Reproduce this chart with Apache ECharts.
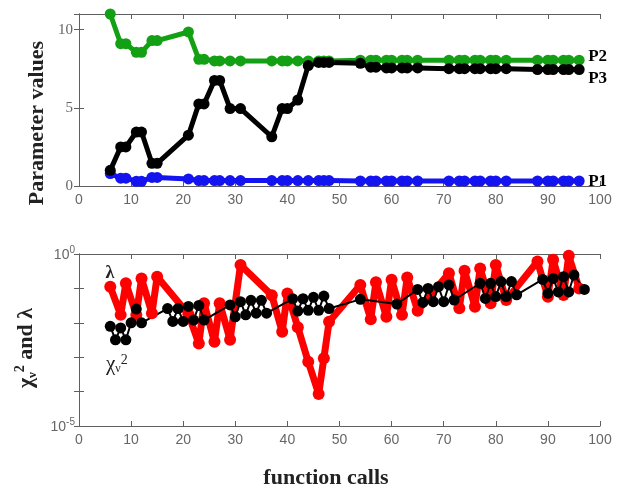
<!DOCTYPE html>
<html>
<head>
<meta charset="utf-8">
<script src="https://cdn.jsdelivr.net/npm/echarts@6/dist/echarts.min.js"></script>
<style>
  html, body { margin: 0; padding: 0; background: #fff; }
  #chart { width: 627px; height: 491px; }
</style>
</head>
<body>
<div id="chart"></div>
<script>
// Function calls at which the parameters and the damping factor were recorded
const paramCalls = [6, 8, 9, 11, 12, 14, 15, 21, 23, 24, 26, 27, 29, 31, 37, 39, 40, 42, 44, 46, 47, 48,
                    54, 56, 57, 59, 60, 62, 63, 65, 71, 73, 74, 76, 77, 79, 80, 82, 88, 90, 91, 93, 94, 96];

// Parameter traces
const p1 = [0.8, 0.5, 0.5, 0.3, 0.3, 0.55, 0.55, 0.45, 0.35, 0.35, 0.35, 0.35, 0.35, 0.35, 0.35, 0.35, 0.35, 0.35, 0.35, 0.35, 0.35, 0.35,
            0.32, 0.32, 0.32, 0.32, 0.32, 0.32, 0.32, 0.32, 0.32, 0.32, 0.32, 0.32, 0.32, 0.32, 0.32, 0.32, 0.32, 0.32, 0.32, 0.32, 0.32, 0.32];
const p2 = [11, 9.1, 9.1, 8.55, 8.55, 9.3, 9.3, 9.85, 8.1, 8.1, 8.0, 8.0, 8.0, 8.0, 8.0, 8.0, 8.0, 8.0, 8.0, 8.0, 8.0, 8.0,
            8.05, 8.05, 8.05, 8.05, 8.05, 8.05, 8.05, 8.05, 8.05, 8.05, 8.05, 8.05, 8.05, 8.05, 8.05, 8.05, 8.05, 8.05, 8.05, 8.05, 8.05, 8.05];
const p3 = [1.0, 2.5, 2.5, 3.45, 3.45, 1.45, 1.45, 3.25, 5.25, 5.25, 6.75, 6.75, 4.95, 4.95, 3.15, 4.95, 4.95, 5.5, 7.7, 7.9, 7.9, 7.9,
            7.85, 7.6, 7.6, 7.55, 7.55, 7.55, 7.55, 7.55, 7.5, 7.5, 7.5, 7.5, 7.5, 7.5, 7.5, 7.5, 7.45, 7.45, 7.45, 7.45, 7.45, 7.45];

// Damping factor lambda at the same calls
const lambdaVals = [0.112, 0.017, 0.141, 0.017, 0.195, 0.019, 0.219, 0.0178, 0.0025, 0.037, 0.0028, 0.037, 0.0032, 0.479,
                    0.063, 0.0055, 0.071, 0.0074, 0.00074, 0.000085, 0.00093, 0.0107,
                    0.126, 0.0126, 0.151, 0.0151, 0.178, 0.017, 0.209, 0.0224, 0.275, 0.0263, 0.324, 0.0295, 0.38, 0.037,
                    0.479, 0.0457, 0.603, 0.0575, 0.676, 0.0646, 0.891, 0.1];

// Reduced chi-square at every evaluated call
const chiCalls = [6, 7, 8, 9, 10, 11, 12, 17, 18, 19, 20, 21, 22, 23, 24, 29, 30, 31, 32, 33, 34, 35, 36,
                  41, 42, 43, 44, 45, 46, 47, 48, 54, 61, 65, 66, 67, 68, 69, 70, 71, 72,
                  77, 78, 79, 80, 81, 82, 83, 84, 89, 90, 91, 92, 93, 94, 95, 97];
const chiVals = [0.0079, 0.0032, 0.0071, 0.0032, 0.010, 0.025, 0.010, 0.026, 0.011, 0.026, 0.011, 0.030, 0.012, 0.032, 0.012,
                 0.033, 0.015, 0.041, 0.017, 0.045, 0.019, 0.045, 0.019,
                 0.050, 0.022, 0.050, 0.023, 0.055, 0.023, 0.060, 0.026, 0.048, 0.035, 0.093, 0.039, 0.10, 0.041, 0.112, 0.041, 0.126, 0.046,
                 0.141, 0.051, 0.141, 0.058, 0.158, 0.058, 0.158, 0.065, 0.182, 0.072, 0.195, 0.079, 0.219, 0.079, 0.245, 0.093];

const pairs = (xs, ys) => xs.map((x, i) => [x, ys[i]]);

const AXIS = '#5f5f5f';
const LABEL = '#666';
const SERIF = '"Liberation Serif", "Times New Roman", serif';
const SANS = '"Liberation Sans", Arial, sans-serif';

function xAx(grid, pos, labels) {
  return {
    type: 'value', gridIndex: grid, position: pos, min: 0, max: 100, interval: 10,
    axisLine: { show: true, onZero: false, lineStyle: { color: AXIS, width: 1 } },
    axisTick: { show: true, inside: true, length: 5, lineStyle: { color: AXIS } },
    axisLabel: { show: labels, color: LABEL, fontFamily: SANS, fontSize: 14, margin: 7 },
    splitLine: { show: false }
  };
}

// decade labels with a raised exponent, shown only at the ends of the log axis
function supLabel(v) {
  const e = Math.round(Math.log10(v));
  if (e === 0 || e === -5) return '{b|10}{s|' + e + '}';
  return '';
}

const lineSeries = (name, data, color, width, size, xi, yi, extra) => Object.assign({
  type: 'line', name, data, xAxisIndex: xi, yAxisIndex: yi,
  symbol: 'circle', symbolSize: size, showAllSymbol: true,
  lineStyle: { color, width }, itemStyle: { color },
  emphasis: { disabled: true }, animation: false
}, extra || {});

const endLbl = (txt, dy) => ({
  show: true, formatter: txt, color: '#000', fontFamily: SERIF, fontWeight: 'bold', fontSize: 17,
  distance: 9, offset: [0, dy]
});

const option = {
  animation: false,
  grid: [
    { left: 79, top: 14, width: 521, height: 172 },
    { left: 79, top: 254, width: 521, height: 172 }
  ],
  xAxis: [xAx(0, 'bottom', true), xAx(0, 'top', false), xAx(1, 'bottom', true), xAx(1, 'top', false)],
  yAxis: [
    {
      type: 'value', gridIndex: 0, position: 'left', min: 0, max: 11, interval: 5,
      axisLine: { show: true, lineStyle: { color: AXIS } },
      axisTick: { show: true, inside: true, length: 5, lineStyle: { color: AXIS } },
      axisLabel: { color: LABEL, fontFamily: SERIF, fontSize: 15, margin: 6, showMaxLabel: false },
      splitLine: { show: false }
    },
    {
      type: 'value', gridIndex: 0, position: 'right', min: 0, max: 11, interval: 5,
      axisLine: { show: true, lineStyle: { color: AXIS } },
      axisTick: { show: true, inside: true, length: 5, lineStyle: { color: AXIS } },
      axisLabel: { show: false }, splitLine: { show: false }
    },
    {
      type: 'log', logBase: 10, gridIndex: 1, position: 'left', min: 1e-5, max: 1,
      axisLine: { show: true, lineStyle: { color: AXIS } },
      axisTick: { show: true, inside: true, length: 5, lineStyle: { color: AXIS } },
      axisLabel: {
        color: LABEL, margin: 4, formatter: supLabel,
        rich: {
          b: { fontFamily: SANS, fontSize: 14, color: LABEL, lineHeight: 17, verticalAlign: 'bottom' },
          s: { fontFamily: SANS, fontSize: 10, color: LABEL, lineHeight: 10, verticalAlign: 'top' }
        }
      },
      splitLine: { show: false }, minorTick: { show: false }
    },
    {
      type: 'log', logBase: 10, gridIndex: 1, position: 'right', min: 1e-5, max: 1,
      axisLine: { show: true, lineStyle: { color: AXIS } },
      axisTick: { show: true, inside: true, length: 5, lineStyle: { color: AXIS } },
      axisLabel: { show: false }, splitLine: { show: false }
    }
  ],
  series: [
    lineSeries('P1', pairs(paramCalls, p1), '#1414f0', 5, 11, 0, 0, { endLabel: endLbl('P1', 1) }),
    lineSeries('P2', pairs(paramCalls, p2), '#14a014', 5, 11, 0, 0, { endLabel: endLbl('P2', -4) }),
    lineSeries('P3', pairs(paramCalls, p3), '#000000', 5, 11, 0, 0, { endLabel: endLbl('P3', 9) }),
    lineSeries('lambda', pairs(paramCalls, lambdaVals), '#ff0000', 7, 12, 2, 2),
    lineSeries('chi2', pairs(chiCalls, chiVals), '#000000', 2, 11, 2, 2)
  ],
  graphic: [
    {
      type: 'text', x: 37, y: 123, rotation: Math.PI / 2,
      style: { text: 'Parameter values', fill: '#222', font: 'bold 22px ' + SERIF, align: 'center', verticalAlign: 'middle' }
    },
    {
      type: 'text', x: 26, y: 348, rotation: Math.PI / 2,
      style: {
        text: '{g|χ}{sub|ν}{sup|2}{g| and λ}', align: 'center', verticalAlign: 'middle',
        rich: {
          g: { font: 'bold 22px ' + SERIF, fill: '#222', lineHeight: 26, verticalAlign: 'middle' },
          sub: { font: 'bold 13px ' + SERIF, fill: '#222', lineHeight: 14, verticalAlign: 'bottom' },
          sup: { font: 'bold 14px ' + SERIF, fill: '#222', lineHeight: 14, verticalAlign: 'top' }
        }
      }
    },
    {
      type: 'text', x: 326, y: 478,
      style: { text: 'function calls', fill: '#222', font: 'bold 22px ' + SERIF, align: 'center', verticalAlign: 'middle' }
    },
    {
      type: 'text', x: 110, y: 273,
      style: { text: 'λ', fill: '#222', font: 'bold 18px ' + SERIF, align: 'center', verticalAlign: 'middle' }
    },
    {
      type: 'text', x: 106, y: 364,
      style: {
        text: '{g|χ}{sub|ν}{sup|2}', align: 'left', verticalAlign: 'middle',
        rich: {
          g: { font: '21px ' + SERIF, fill: '#222', lineHeight: 22, verticalAlign: 'middle' },
          sub: { font: '12px ' + SERIF, fill: '#222', lineHeight: 12, verticalAlign: 'bottom' },
          sup: { font: '14px ' + SERIF, fill: '#222', lineHeight: 12, verticalAlign: 'top' }
        }
      }
    }
  ]
};

const chart = echarts.init(document.getElementById('chart'), null, { renderer: 'canvas' });
chart.setOption(option);
</script>
</body>
</html>
